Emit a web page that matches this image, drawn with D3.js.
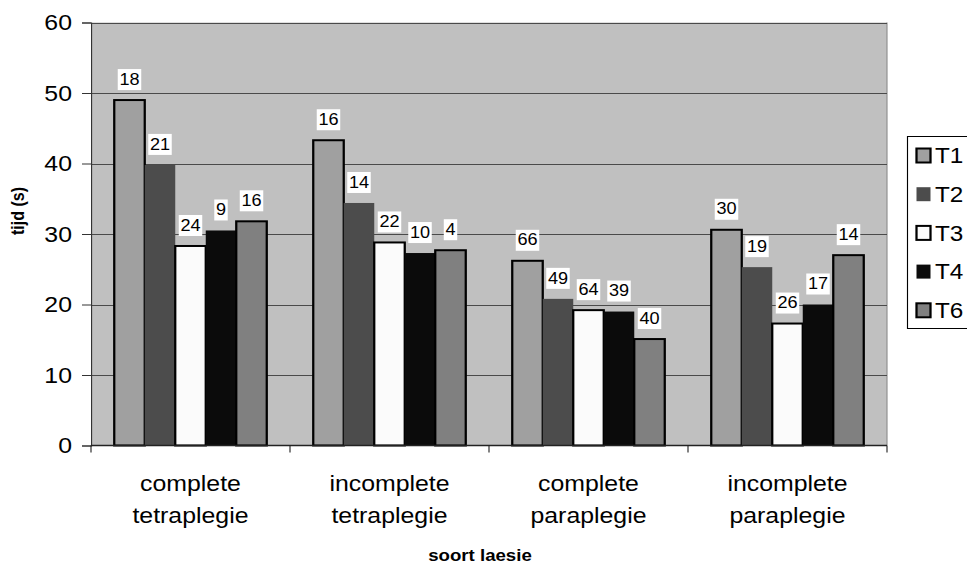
<!DOCTYPE html>
<html>
<head>
<meta charset="utf-8">
<script src="https://cdn.jsdelivr.net/npm/d3@7"></script>
<style>
  html, body { margin: 0; padding: 0; background: #fff; overflow: hidden; }
  svg { display: block; font-family: "Liberation Sans", Arial, sans-serif; }
</style>
</head>
<body>
<svg id="chart" width="967" height="564"></svg>
<script>
// Lesion categories (two-line labels under the x axis)
const categories = ["complete tetraplegie", "incomplete tetraplegie", "complete paraplegie", "incomplete paraplegie"];
const categoryLines = [["complete", "tetraplegie"], ["incomplete", "tetraplegie"], ["complete", "paraplegie"], ["incomplete", "paraplegie"]];

// Measurement moments
const series = ["T1", "T2", "T3", "T4", "T6"];

// Mean time (s) per lesion category, one array per moment
const valuesT1 = [49.0, 43.3, 26.2, 30.6];
const valuesT2 = [39.8, 34.4, 20.8, 25.3];
const valuesT3 = [28.3, 28.8, 19.2, 17.3];
const valuesT4 = [30.5, 27.3, 19.0, 20.0];
const valuesT6 = [31.8, 27.7, 15.1, 27.0];

// Number of subjects printed above each bar
const countsT1 = [18, 16, 66, 30];
const countsT2 = [21, 14, 49, 19];
const countsT3 = [24, 22, 64, 26];
const countsT4 = [9, 10, 39, 17];
const countsT6 = [16, 4, 40, 14];

// Y axis ticks
const yTicks = [0, 10, 20, 30, 40, 50, 60];

const seriesValues = [valuesT1, valuesT2, valuesT3, valuesT4, valuesT6];
const seriesCounts = [countsT1, countsT2, countsT3, countsT4, countsT6];

const fills = { T1: "#a0a0a0", T2: "#4c4c4c", T3: "#fbfbfb", T4: "#0b0b0b", T6: "#808080" };
const outlined = { T1: true, T2: false, T3: true, T4: false, T6: true };

// The whole drawing is slightly wider than tall in its proportions
const SX = 1.13;
const px = v => v / SX;   // page x -> drawing x

const plotLeft = 91, plotRight = 887, plotTop = 22.5, plotBottom = 445.5;

const svg = d3.select("#chart");
const g = svg.append("g").attr("transform", `scale(${SX},1)`);

const x0 = d3.scaleBand().domain(categories).range([px(plotLeft), px(plotRight)]).paddingInner(0).paddingOuter(0);
const x1 = d3.scaleBand().domain(series).range([0, x0.bandwidth()]).paddingInner(0).paddingOuter(0.762);
const y = d3.scaleLinear().domain([0, 60]).range([plotBottom, plotTop]);

// Plot background
g.append("rect")
  .attr("x", px(plotLeft)).attr("y", plotTop)
  .attr("width", px(plotRight) - px(plotLeft)).attr("height", plotBottom - plotTop)
  .attr("fill", "#c0c0c0");

// Right edge of the plot area
g.append("line")
  .attr("x1", px(plotRight)).attr("x2", px(plotRight))
  .attr("y1", plotTop).attr("y2", plotBottom)
  .attr("stroke", "#8c8c8c").attr("stroke-width", 1);

// Horizontal gridlines
g.append("g")
  .selectAll("line")
  .data(yTicks.filter(t => t > 0))
  .join("line")
  .attr("x1", px(plotLeft)).attr("x2", px(plotRight))
  .attr("y1", d => Math.round(y(d)) + 0.5).attr("y2", d => Math.round(y(d)) + 0.5)
  .attr("stroke", "#4a4a4a").attr("stroke-width", 1);

// Bars
const rows = [];
categories.forEach((c, ci) => {
  series.forEach((s, si) => {
    rows.push({ cat: c, ser: s, value: seriesValues[si][ci], count: seriesCounts[si][ci] });
  });
});

const barG = g.append("g");
barG.selectAll("rect")
  .data(rows)
  .join("rect")
  .attr("x", d => x0(d.cat) + x1(d.ser))
  .attr("y", d => y(d.value))
  .attr("width", x1.bandwidth())
  .attr("height", d => y(0) - y(d.value))
  .attr("fill", d => fills[d.ser])
  .attr("stroke", d => outlined[d.ser] ? "#000" : "none")
  .attr("stroke-width", 2);

// Count labels on white boxes above the bars
const labelG = g.append("g");
rows.forEach(d => {
  const cx = x0(d.cat) + x1(d.ser) + x1.bandwidth() / 2;
  const cy = y(d.value) - 20.5;
  const box = labelG.append("rect").attr("fill", "#fff");
  const t = labelG.append("text")
    .attr("x", cx).attr("y", cy)
    .attr("text-anchor", "middle")
    .attr("dominant-baseline", "central")
    .attr("font-size", 16)
    .attr("fill", "#000")
    .text(d.count);
  const bb = t.node().getBBox();
  box.attr("x", bb.x - 1.5).attr("y", cy - 10.5)
     .attr("width", bb.width + 3).attr("height", 21);
});

// Y axis
const yAxis = g.append("g")
  .attr("transform", `translate(${px(plotLeft)},0)`)
  .call(d3.axisLeft(y).tickValues(yTicks).tickSize(px(9)).tickPadding(px(10)).tickFormat(d3.format("d")));
yAxis.select(".domain").attr("stroke", "#333").attr("stroke-width", 1);
yAxis.selectAll(".tick line").attr("stroke", "#333");
yAxis.selectAll(".tick text")
  .attr("font-size", 22)
  .attr("font-family", "Liberation Sans, Arial, sans-serif")
  .attr("fill", "#000");

// X axis: baseline with ticks between categories
const xAxis = g.append("g");
xAxis.append("line")
  .attr("x1", px(plotLeft)).attr("x2", px(plotRight))
  .attr("y1", plotBottom).attr("y2", plotBottom)
  .attr("stroke", "#222").attr("stroke-width", 1.5);
const boundaries = categories.map(c => x0(c)).concat([x0(categories[categories.length - 1]) + x0.bandwidth()]);
xAxis.selectAll("line.tick")
  .data(boundaries)
  .join("line")
  .attr("class", "tick")
  .attr("x1", d => d).attr("x2", d => d)
  .attr("y1", plotBottom).attr("y2", plotBottom + 7)
  .attr("stroke", "#222").attr("stroke-width", 1);

// Category labels
categories.forEach((c, ci) => {
  const t = xAxis.append("text")
    .attr("x", x0(c) + x0.bandwidth() / 2)
    .attr("text-anchor", "middle")
    .attr("font-size", 22)
    .attr("fill", "#000");
  categoryLines[ci].forEach((line, li) => {
    t.append("tspan")
      .attr("x", x0(c) + x0.bandwidth() / 2)
      .attr("y", 491.5 + li * 31.6)
      .text(line);
  });
});

// Axis titles
g.append("text")
  .attr("x", px(480)).attr("y", 561)
  .attr("text-anchor", "middle")
  .attr("font-size", 16.5).attr("font-weight", "bold")
  .text("soort laesie");

g.append("text")
  .attr("transform", `translate(${px(24)},211) rotate(-90)`)
  .attr("text-anchor", "middle")
  .attr("font-size", 16).attr("font-weight", "bold")
  .text("tijd (s)");

// Legend (frame runs past the right edge of the page)
const legend = g.append("g");
const lx = px(907.5), ly = 136.5, lh = 192, lw = px(200);
legend.append("rect")
  .attr("x", lx).attr("y", ly).attr("width", lw).attr("height", lh)
  .attr("fill", "#fff");
legend.append("path")
  .attr("d", `M${lx + lw},${ly}H${lx}V${ly + lh}H${lx + lw}`)
  .attr("fill", "none").attr("stroke", "#000").attr("stroke-width", 1);
series.forEach((s, i) => {
  const cy = 155.5 + i * 38.7;
  legend.append("rect")
    .attr("x", px(916.5)).attr("y", cy - 7)
    .attr("width", px(14)).attr("height", 14)
    .attr("fill", fills[s])
    .attr("stroke", outlined[s] ? "#000" : "none")
    .attr("stroke-width", 2);
  legend.append("text")
    .attr("x", px(935)).attr("y", cy + 7.8)
    .attr("font-size", 21.5)
    .attr("fill", "#000")
    .text(s);
});
</script>
</body>
</html>
